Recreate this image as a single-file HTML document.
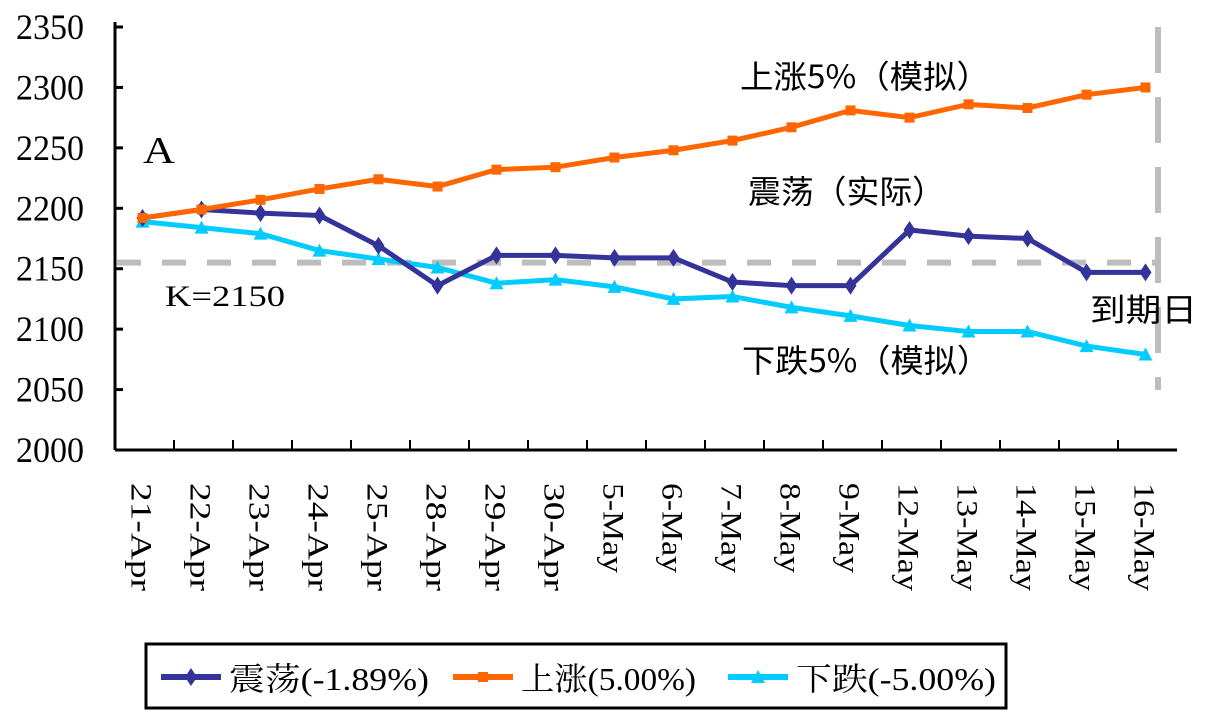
<!DOCTYPE html>
<html><head><meta charset="utf-8"><style>
html,body{margin:0;padding:0;background:#fff;}
svg{display:block;font-family:"Liberation Serif","Noto Serif CJK SC",serif;}
</style></head><body>
<svg id="chart" width="1206" height="711" viewBox="0 0 1206 711" xmlns="http://www.w3.org/2000/svg"></svg>
<script>
const categories=["21-Apr","22-Apr","23-Apr","24-Apr","25-Apr","28-Apr","29-Apr","30-Apr","5-May","6-May","7-May","8-May","9-May","12-May","13-May","14-May","15-May","16-May"];
const seriesUp=[2192,2199,2207,2216,2224,2218,2232,2234,2242,2248,2256,2267,2281,2275,2286,2283,2294,2300];
const seriesActual=[2192,2199,2196,2194,2169,2136,2161,2161,2159,2159,2139,2136,2136,2182,2177,2175,2147,2147];
const seriesDown=[2189,2184,2179,2165,2158,2151,2138,2141,2135,2125,2127,2118,2111,2103,2098,2098,2086,2079];
const yTicks=[2000,2050,2100,2150,2200,2250,2300,2350];
const strikeK=[2155];

const svg=document.getElementById('chart');
const NS='http://www.w3.org/2000/svg';
const L=115,R=1177,T=27,B=450,ymin=2000,ymax=2350;
const step=(R-L)/categories.length;
function xs(i){return L+step*(i+0.5)-2;}
function ys(v){return B-(v-ymin)/(ymax-ymin)*(B-T);}
function el(tag,attrs,parent){const e=document.createElementNS(NS,tag);for(const k in attrs)e.setAttribute(k,attrs[k]);(parent||svg).appendChild(e);return e;}

const axes=el('g',{});


el('line',{x1:L,y1:T-5,x2:L,y2:B,stroke:'#000','stroke-width':3},axes);
el('line',{x1:L,y1:B,x2:R,y2:B,stroke:'#000','stroke-width':3},axes);
yTicks.forEach(v=>{
  const y=ys(v);
  el('line',{x1:L,y1:y,x2:L+8,y2:y,stroke:'#000','stroke-width':3},axes);
  const t=el('text',{x:84,y:y+12,'text-anchor':'end','font-size':36,textLength:68,lengthAdjust:'spacingAndGlyphs'},axes);
  t.textContent=v;
  
  
});
categories.forEach((c,i)=>{
  if(i>0){const x=L+step*i;el('line',{x1:x,y1:B,x2:x,y2:B-10,stroke:'#000','stroke-width':2},axes);}
  const x=xs(i);
  const t=el('text',{x:0,y:0,transform:`translate(${x-11},483) rotate(90)`,'font-size':30,textLength:c.length*18,lengthAdjust:'spacingAndGlyphs'},axes);
  t.textContent=c;
  
  
});

const kl=el('line',{x1:L+2,y1:ys(strikeK[0]),x2:1158,y2:ys(strikeK[0]),stroke:'#bdbdbd','stroke-width':6,'stroke-dasharray':'24,21'});


const vl=el('line',{x1:1158,y1:T,x2:1158,y2:390,stroke:'#bdbdbd','stroke-width':6,'stroke-dasharray':'46,24'});



function marker(type,x,y,color,g){
  if(type==='sq')el('rect',{x:x-5,y:y-5,width:10,height:10,fill:color},g);
  else if(type==='dia')el('polygon',{points:`${x},${y-9} ${x+6},${y} ${x},${y+9} ${x-6},${y}`,fill:color},g);
  else el('polygon',{points:`${x},${y-7} ${x+7},${y+6} ${x-7},${y+6}`,fill:color},g);
}
function series(data,color,type,name){
  const g=el('g',{});
  
  
  el('polyline',{points:data.map((v,i)=>xs(i)+','+ys(v)).join(' '),fill:'none',stroke:color,'stroke-width':5},g);
  data.forEach((v,i)=>marker(type,xs(i),ys(v),color,g));
}
series(seriesDown,'#00ccff','tri','series-down');
series(seriesActual,'#333399','dia','series-actual');
series(seriesUp,'#ff6600','sq','series-up');

function label(txt,x,y,size,w,name,cjk){
  const t=el('text',{x:x,y:y,'font-size':size,textLength:w,lengthAdjust:'spacingAndGlyphs'});
  if(cjk)t.setAttribute('font-family','"Noto Sans CJK SC",sans-serif');
  t.textContent=txt;
  
  
  return t;
}
label('A',143,163,38,32,'panel-label');
label('K=2150',165,306,30,120,'strike-label');
label('上涨5%（模拟）',740,88,32,250,'up-annotation',true);
label('震荡（实际）',748,203,32,197,'actual-annotation',true);
label('下跌5%（模拟）',742,372,32,248,'down-annotation',true);
label('到期日',1090,321,32,107,'expiry-annotation',true);

const lg=el('g',{});


el('rect',{x:146,y:644,width:860,height:64,fill:'#fff',stroke:'#000','stroke-width':3},lg);
const legLabels=['震荡(-1.89%)','上涨(5.00%)','下跌(-5.00%)'];
const legColors=['#333399','#ff6600','#00ccff'];
const legTypes=['dia','sq','tri'];
const legX=[161,453,728];
const legW=[200,175,200];
legLabels.forEach((d,i)=>{
  const x=legX[i];
  const g=el('g',{},lg);
  
  
  el('line',{x1:x,y1:677,x2:x+60,y2:677,stroke:legColors[i],'stroke-width':6},g);
  marker(legTypes[i],x+30,677,legColors[i],g);
  const t=el('text',{x:x+68,y:690,'font-size':32,textLength:legW[i],lengthAdjust:'spacingAndGlyphs','font-family':'"Liberation Serif","Noto Serif CJK SC",serif'},g);
  t.textContent=d;
});
</script>
</body></html>
